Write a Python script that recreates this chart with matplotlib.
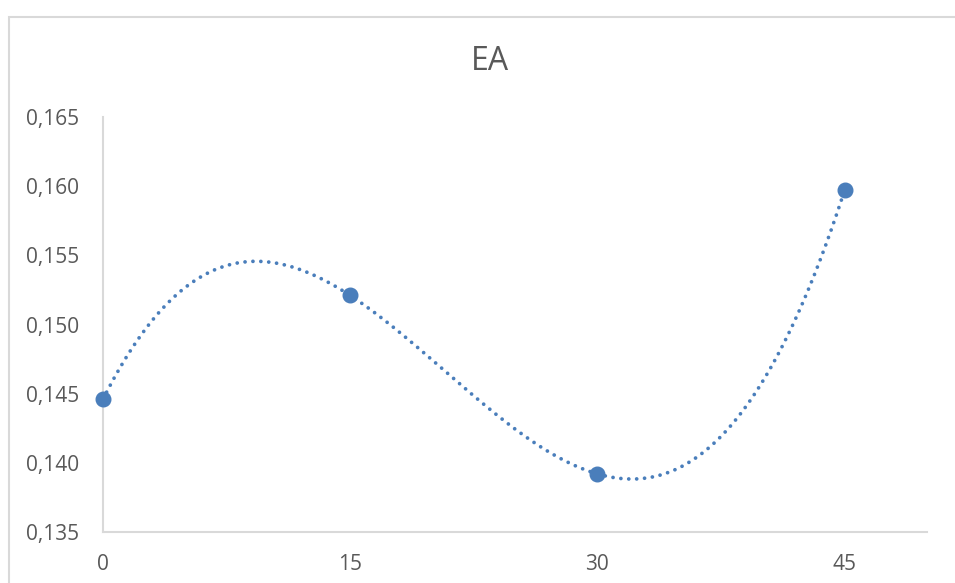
import numpy as np
import matplotlib.pyplot as plt
import matplotlib.patches as patches
from matplotlib.ticker import FuncFormatter

# data
time_vals = [0, 15, 30, 45]
ea_vals = [0.1446, 0.1521, 0.1392, 0.1597]
x_ticks = [0, 15, 30, 45]
y_ticks = [0.135, 0.140, 0.145, 0.150, 0.155, 0.160, 0.165]

blue = '#4A7EBB'
grey_txt = '#595959'
grey_line = '#D9D9D9'

plt.rcParams['font.family'] = ['Open Sans', 'DejaVu Sans']

fig = plt.figure(figsize=(9.55, 5.83), dpi=100)
ax = fig.add_axes([103/955, 1 - 532/583, (927 - 103)/955, (532 - 117)/583])

# chart frame (Excel chart area border, cut at the right/bottom)
frame = patches.Rectangle((9/955, -0.1), 1.2, 1 - 17/583 + 0.1, transform=fig.transFigure,
                          fill=False, edgecolor=grey_line, linewidth=1.5)
fig.patches.append(frame)

# polynomial (order 3) trendline like Excel
coef = np.polyfit(time_vals, ea_vals, 3)
xs = np.linspace(min(time_vals), max(time_vals), 400)
ax.plot(xs, np.polyval(coef, xs), color=blue, linewidth=2.7,
        linestyle=(0, (0.01, 2.1)), dash_capstyle='round', zorder=2)

ax.plot(time_vals, ea_vals, 'o', color=blue, markersize=10.5, zorder=3, clip_on=False)

ax.set_xlim(0, 50)
ax.set_ylim(0.135, 0.165)
ax.set_xticks(x_ticks)
ax.set_yticks(y_ticks)
ax.yaxis.set_major_formatter(FuncFormatter(lambda v, p: f'{v:.3f}'.replace('.', ',')))

for s in ['top', 'right']:
    ax.spines[s].set_visible(False)
for s in ['left', 'bottom']:
    ax.spines[s].set_color(grey_line)
    ax.spines[s].set_linewidth(1.5)

ax.tick_params(axis='both', length=0, labelsize=15, labelcolor=grey_txt)
ax.tick_params(axis='y', pad=17)
ax.tick_params(axis='x', pad=16)

fig.text(490/955, 1 - 62/583, 'EA', ha='center', va='center', fontsize=23, color=grey_txt)

plt.savefig('out.png', dpi=100)
